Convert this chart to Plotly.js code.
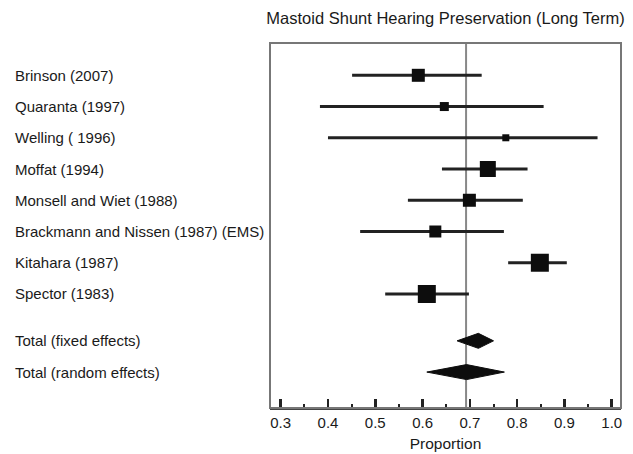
<!DOCTYPE html>
<html>
<head>
<meta charset="utf-8">
<script src="https://cdn.plot.ly/plotly-3.0.1.min.js"></script>
<style>html,body{margin:0;padding:0;background:#fff;}#chart{width:633px;height:454px;}</style>
</head>
<body>
<div id="chart"></div>
<script>
// Study data
var studies = ["Brinson (2007)", "Quaranta (1997)", "Welling ( 1996)", "Moffat (1994)",
  "Monsell and Wiet (1988)", "Brackmann and Nissen (1987) (EMS)", "Kitahara (1987)", "Spector (1983)"];
var proportion = [0.591, 0.646, 0.776, 0.738, 0.699, 0.627, 0.848, 0.609];
var ciLow     = [0.451, 0.383, 0.400, 0.641, 0.569, 0.468, 0.781, 0.521];
var ciHigh    = [0.725, 0.856, 0.970, 0.822, 0.812, 0.772, 0.905, 0.698];
var weights   = [13, 9, 7, 16, 13, 12, 18, 18];

// Pooled estimates
var totals     = ["Total (fixed effects)", "Total (random effects)"];
var totalEst   = [0.718, 0.693];
var totalLow   = [0.673, 0.609];
var totalHigh  = [0.750, 0.773];
var referenceLine = 0.692;

var xTickVals = [0.3, 0.4, 0.5, 0.6, 0.7, 0.8, 0.9, 1.0];
var xTickText = ["0.3", "0.4", "0.5", "0.6", "0.7", "0.8", "0.9", "1.0"];

// layout rows
var studyRows = studies.map(function(_, i){ return i + 1; });
var totalRows = [studies.length + 1.5, studies.length + 2.5];

var FONT = "Liberation Sans, Arial, Helvetica, sans-serif";
var INK = "#1a1a1a";

var traces = [];
traces.push({
  type: "scatter", mode: "markers",
  x: proportion, y: studyRows,
  marker: {symbol: "square", size: weights, color: "#0d0d0d", opacity: 1, line: {width: 0}},
  error_x: {type: "data", symmetric: false,
    array: proportion.map(function(p, i){ return ciHigh[i] - p; }),
    arrayminus: proportion.map(function(p, i){ return p - ciLow[i]; }),
    thickness: 3, width: 0, color: "#222"},
  hoverinfo: "skip", showlegend: false
});

var halfH = 0.24;
totals.forEach(function(name, i){
  var r = totalRows[i];
  traces.push({
    type: "scatter", mode: "lines", fill: "toself",
    x: [totalLow[i], totalEst[i], totalHigh[i], totalEst[i], totalLow[i]],
    y: [r, r - halfH, r, r + halfH, r],
    line: {color: "#0d0d0d", width: 1}, fillcolor: "#0d0d0d",
    hoverinfo: "skip", showlegend: false
  });
});

var annotations = [];
studies.concat(totals).forEach(function(name, i){
  annotations.push({
    xref: "paper", yref: "y", x: -0.731, y: studyRows.concat(totalRows)[i],
    xanchor: "left", yanchor: "middle", text: name, showarrow: false,
    font: {family: FONT, size: 15, color: INK}
  });
});

var layout = {
  width: 633, height: 454,
  margin: {l: 270, r: 12, t: 43, b: 46, pad: 0},
  paper_bgcolor: "#fff", plot_bgcolor: "#fff",
  title: {text: "Mastoid Shunt Hearing Preservation (Long Term)",
    font: {family: FONT, size: 16.5, color: INK},
    x: 0.5, xref: "paper", xanchor: "center", y: 0.96, yref: "container", yanchor: "middle"},
  xaxis: {
    range: [0.2774, 1.0196], autorange: false,
    tickmode: "array", tickvals: xTickVals, ticktext: xTickText,
    ticks: "inside", ticklen: 9, tickwidth: 2.5, tickcolor: "#222",
    minor: {dtick: 0.05, tick0: 0.3, ticks: "inside", ticklen: 4, tickwidth: 2, tickcolor: "#222", showgrid: false},
    showgrid: false, zeroline: false,
    showline: true, linecolor: "#444", linewidth: 2, mirror: false,
    tickfont: {family: FONT, size: 15, color: INK},
    title: {text: "Proportion", font: {family: FONT, size: 15.5, color: INK}, standoff: 8},
    fixedrange: true
  },
  yaxis: {
    range: [11.65, -0.034], autorange: false,
    showticklabels: false, ticks: "", showgrid: false, zeroline: false,
    showline: false, fixedrange: true
  },
  shapes: [
    {type: "line", xref: "x", yref: "paper", x0: referenceLine, x1: referenceLine, y0: 0, y1: 1,
     line: {color: "#888", width: 2}, layer: "below"},
    {type: "rect", xref: "paper", yref: "paper", x0: 0, x1: 1, y0: 0, y1: 1,
     line: {color: "#777", width: 2}, fillcolor: "rgba(0,0,0,0)"}
  ],
  annotations: annotations
};

Plotly.newPlot("chart", traces, layout, {displayModeBar: false, staticPlot: true});
</script>
</body>
</html>
